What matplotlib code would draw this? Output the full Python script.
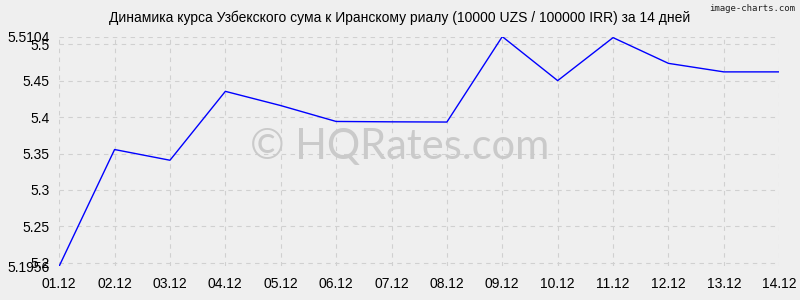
import matplotlib
matplotlib.use("Agg")
import matplotlib.pyplot as plt

dates = ["01.12", "02.12", "03.12", "04.12", "05.12", "06.12", "07.12",
         "08.12", "09.12", "10.12", "11.12", "12.12", "13.12", "14.12"]
rates = [5.1956, 5.3555, 5.3408, 5.4353, 5.4158, 5.3940, 5.3935,
         5.3932, 5.5104, 5.4500, 5.5090, 5.4737, 5.4620, 5.4620]
y_ticks = [5.1956, 5.2, 5.25, 5.3, 5.35, 5.4, 5.45, 5.5, 5.5104]
y_labels = ["5.1956", "5.2", "5.25", "5.3", "5.35", "5.4", "5.45", "5.5", "5.5104"]

title = "Динамика курса Узбекского сума к Иранскому риалу (10000 UZS / 100000 IRR) за 14 дней"

plt.rcParams['font.family'] = ['Liberation Sans', 'DejaVu Sans']

bg = "#efefef"
fig = plt.figure(figsize=(8, 3), dpi=100, facecolor=bg)
ax = fig.add_axes([0.074, 0.113, 0.9, 0.765], facecolor=bg)

x = list(range(len(dates)))
ax.plot(x, rates, color="#0000ff", linewidth=1)

ax.set_xlim(0, len(dates) - 1)
ax.set_ylim(min(y_ticks), max(y_ticks))
ax.set_xticks(x)
ax.set_xticklabels(dates, fontsize=10)
ax.set_yticks(y_ticks)
ax.set_yticklabels(y_labels, fontsize=10)
ax.tick_params(axis="y", length=0, pad=7)
ax.tick_params(axis="x", length=0, pad=8)
ax.grid(True, color="#d0d0d0", linestyle=(0, (4, 4)), linewidth=0.8)
for s in ax.spines.values():
    s.set_visible(False)

fig.text(0.5, 0.94, title, ha="center", va="center", fontsize=10)
fig.text(0.994, 0.972, "image-charts.com", ha="right", va="center",
         fontsize=6.5, family="DejaVu Sans Mono", color="#222222")
fig.text(0.5, 0.51, "© HQRates.com", ha="center", va="center",
         fontsize=30, family="Lato", color="#cacaca", zorder=0)

fig.savefig("out.png", dpi=100, facecolor=bg)
